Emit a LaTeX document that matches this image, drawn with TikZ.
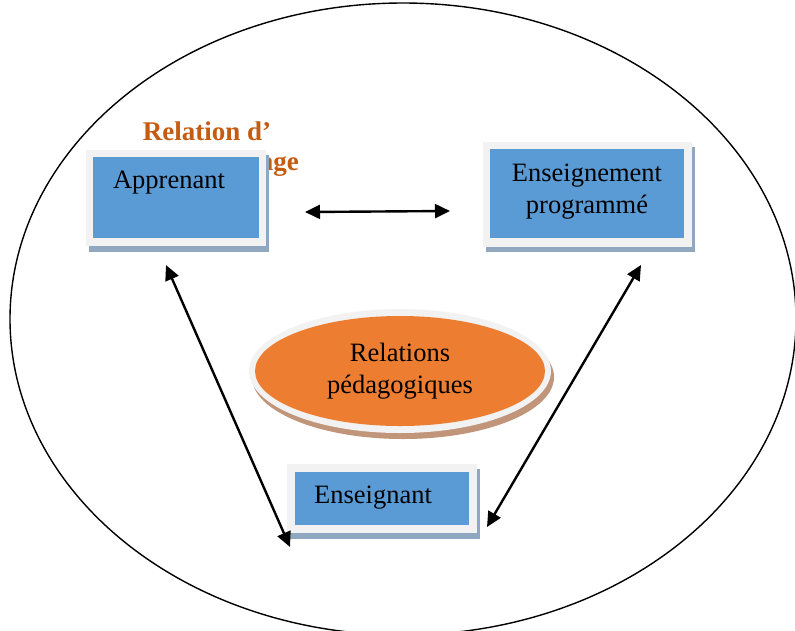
\documentclass[tikz,border=0pt]{standalone}
\usepackage{fontspec}
\setmainfont{Liberation Serif}
\usetikzlibrary{arrows.meta,shapes.geometric}
\definecolor{bleuboite}{HTML}{5B9BD5}
\definecolor{cadre}{HTML}{F2F2F2}
\definecolor{ombre}{HTML}{8FA8C0}
\definecolor{orangeell}{HTML}{ED7D31}
\definecolor{ombreell}{HTML}{C0957A}
\definecolor{titre}{HTML}{C55A11}
\begin{document}
\begin{tikzpicture}[x=1pt,y=-1pt,
    boite/.style={fill=bleuboite, draw=none},
    texte/.style={font=\fontsize{26.5}{32}\selectfont, align=center, inner sep=0pt},
    fleche/.style={{Triangle[length=15pt,width=14pt]}-{Triangle[length=15pt,width=14pt]}, line width=2.4pt}]
\useasboundingbox (0,0) rectangle (795,630);
% grande ellipse
                \begin{scope}
                \clip (0,0) rectangle (795,630);
                \draw [line width=1.4pt] ( 403, 319 ) ellipse [x radius=393, y radius=316];
                \end{scope}
% titre
                \node [texte, font=\bfseries\fontsize{27}{32}\selectfont, text=titre] (rel1) at ( 207, 131 ) {Relation d’};
                \node [texte, font=\bfseries\fontsize{27}{32}\selectfont, text=titre, anchor=base east] (rel2) at ( 299, 170 ) {apprentissage};
% apprenant
                \fill [ombre] ( 89, 155 ) rectangle ( 269, 252 );
                \fill [cadre] ( 86, 150 ) rectangle ( 266, 246 );
                \fill [boite] ( 93, 157 ) rectangle ( 259, 238 );
                \node [texte] (appr) at ( 169, 183 ) {Apprenant};
% enseignement programme
                \fill [ombre] ( 486, 147 ) rectangle ( 695, 252 );
                \fill [cadre] ( 483, 142 ) rectangle ( 692, 247 );
                \fill [boite] ( 490, 149 ) rectangle ( 684, 238 );
                \node [texte] (prog) at ( 587, 192 ) {Enseignement\\programmé};
% enseignant
                \fill [ombre] ( 290, 469 ) rectangle ( 480, 539 );
                \fill [cadre] ( 287, 464 ) rectangle ( 477, 533 );
                \fill [boite] ( 295, 472 ) rectangle ( 469, 525 );
                \node [texte] (ens) at ( 373, 498 ) {Enseignant};
% relations pedagogiques
                \fill [ombreell] ( 403, 377 ) ellipse [x radius=151, y radius=62];
                \fill [cadre] ( 400, 371 ) ellipse [x radius=151, y radius=62];
                \node [ellipse, fill=orangeell, minimum width=290pt, minimum height=110pt, texte] (ped) at ( 400, 371 ) {Relations\\pédagogiques};
% fleches
                \coordinate (a1) at ( 305, 212 );
                \coordinate (a2) at ( 450, 211 );
                \coordinate (b1) at ( 166, 265 );
                \coordinate (b2) at ( 290, 547 );
                \coordinate (c1) at ( 641, 265 );
                \coordinate (c2) at ( 487, 527 );
                \draw [fleche] (a1) -- (a2);
                \draw [fleche] (b1) -- (b2);
                \draw [fleche] (c1) -- (c2);
\end{tikzpicture}
\end{document}
